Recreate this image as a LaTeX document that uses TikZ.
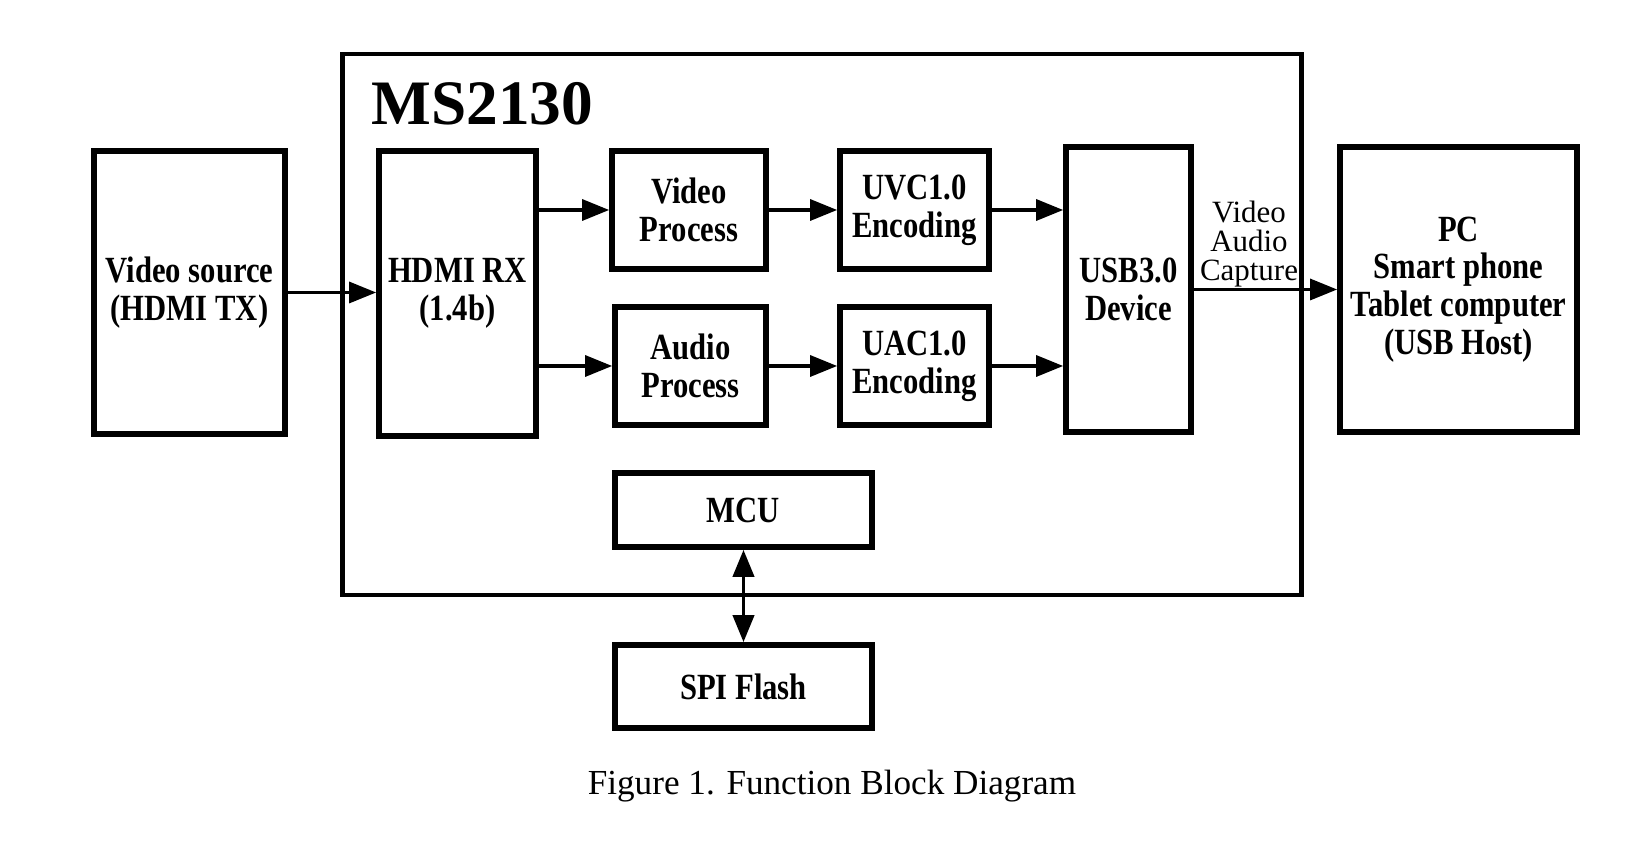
\documentclass[tikz,border=0pt]{standalone}
\usepackage{fontspec}
\setmainfont{Liberation Serif}
\newfontfamily\blocfont[FakeStretch=0.83]{Liberation Serif}
\usetikzlibrary{arrows.meta}

\begin{document}
\begin{tikzpicture}[x=0.01cm,y=-0.01cm,
	bloc/.style={draw,line width=1.6pt,inner sep=0pt,align=center,font=\blocfont\bfseries\fontsize{10.5}{10.7}\selectfont},
	pointe/.tip={Triangle[length=7.7pt,width=6pt]},
	fleche/.style={-pointe,line width=0.9pt}]
	\useasboundingbox (0,0) rectangle (1638,855);

	%\node (nom node) at(x,y) [options] {affichage} ;
	\node (puce) at(822,324.5) [draw,line width=1.3pt,minimum width=9.58cm,minimum height=5.41cm] {} ;
	\node (nom puce) at(371,125) [anchor=base west,inner sep=0pt,font=\bfseries\fontsize{18}{18}\selectfont] {MS2130} ;
	\node (source) at(189.5,292.5) [bloc,minimum width=1.91cm,minimum height=2.83cm] {Video source\\(HDMI TX)} ;
	\node (hdmi) at(457.5,293.5) [bloc,minimum width=1.57cm,minimum height=2.85cm] {HDMI RX\\(1.4b)} ;
	\node (video) at(689,210) [bloc,minimum width=1.54cm,minimum height=1.18cm] {Video\\Process} ;
	\node (audio) at(690.5,366) [bloc,minimum width=1.51cm,minimum height=1.18cm] {Audio\\Process} ;
	\node (uvc) at(914.5,210) [bloc,minimum width=1.49cm,minimum height=1.18cm] {UVC1.0\\Encoding} ;
	\node (uac) at(914.5,366) [bloc,minimum width=1.49cm,minimum height=1.18cm] {UAC1.0\\Encoding} ;
	\node (usb) at(1128.5,289.5) [bloc,minimum width=1.25cm,minimum height=2.85cm] {USB3.0\\Device} ;
	\node (hote) at(1458.5,289.5) [bloc,minimum width=2.37cm,minimum height=2.85cm] {PC\\Smart phone\\Tablet computer\\(USB Host)} ;
	\node (mcu) at(743.5,510) [bloc,minimum width=2.57cm,minimum height=0.74cm] {MCU} ;
	\node (spi) at(743.5,686.5) [bloc,minimum width=2.57cm,minimum height=0.83cm] {SPI Flash} ;
	\node (flux) at(1249,244) [align=center,inner sep=0pt,font=\fontsize{8.8}{8.3}\selectfont] {Video\\Audio\\Capture} ;
	\node (legende) at(832,786) [font=\fontsize{10}{12}\selectfont] {Figure 1. Function Block Diagram} ;

	%\draw[options] (nom node A) -- (nom node B);
	\draw[fleche] (source.east) -- (source.east -| hdmi.west) ;
	\draw[fleche] (hdmi.east |- video.west) -- (video.west) ;
	\draw[fleche] (hdmi.east |- audio.west) -- (audio.west) ;
	\draw[fleche] (video) -- (uvc) ;
	\draw[fleche] (audio) -- (uac) ;
	\draw[fleche] (uvc.east) -- (uvc.east -| usb.west) ;
	\draw[fleche] (uac.east) -- (uac.east -| usb.west) ;
	\draw[fleche] (usb) -- (hote) ;
	\draw[pointe-pointe,line width=1.1pt] (mcu) -- (spi) ;
\end{tikzpicture}
\end{document}
